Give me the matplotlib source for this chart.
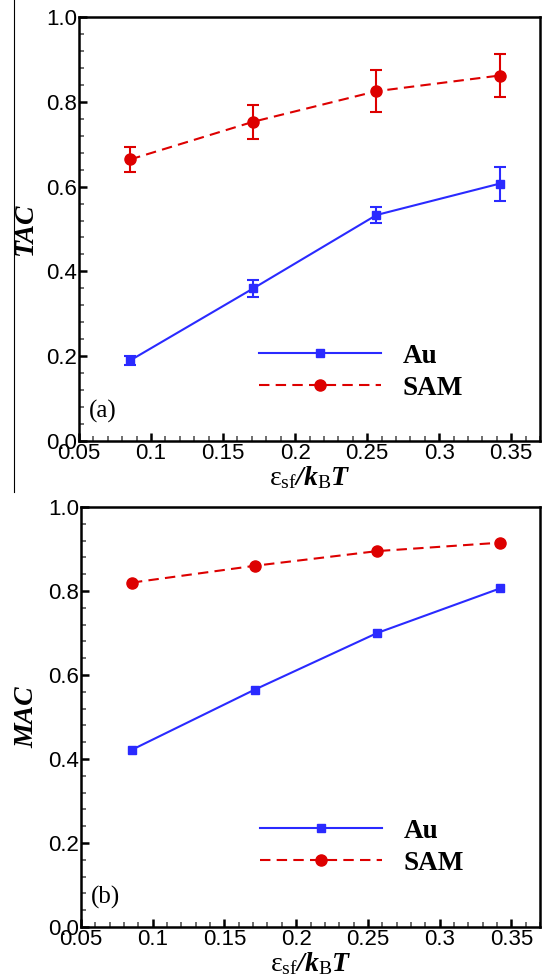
import matplotlib.pyplot as plt
from matplotlib.lines import Line2D
from matplotlib.ticker import MultipleLocator

plt.rcParams['font.family'] = ['Liberation Sans', 'DejaVu Sans']
plt.rcParams['mathtext.fontset'] = 'custom'
plt.rcParams['mathtext.rm'] = 'Liberation Serif'
plt.rcParams['mathtext.it'] = 'Liberation Serif:italic'
plt.rcParams['mathtext.bf'] = 'Liberation Serif:italic:bold'

# data
eps = [0.0855, 0.171, 0.2565, 0.342]
tac_au = [0.190, 0.360, 0.533, 0.607]
tac_au_err = [0.010, 0.020, 0.020, 0.040]
tac_sam = [0.664, 0.753, 0.825, 0.862]
tac_sam_err = [0.030, 0.040, 0.050, 0.050]
mac_au = [0.422, 0.565, 0.700, 0.806]
mac_sam = [0.820, 0.860, 0.895, 0.915]

xticks = [0.05, 0.1, 0.15, 0.2, 0.25, 0.3, 0.35]
xticklabels = ['0.05', '0.1', '0.15', '0.2', '0.25', '0.3', '0.35']
yticks = [0.0, 0.2, 0.4, 0.6, 0.8, 1.0]
yticklabels = ['0.0', '0.2', '0.4', '0.6', '0.8', '1.0']

blue = '#2a2aff'
red = '#dd0000'

W, H = 542, 977
fig = plt.figure(figsize=(W / 100, H / 100), dpi=100)


def box(l, r, t, b):
    return [l / W, 1 - b / H, (r - l) / W, (b - t) / H]


def style_axes(ax, ylabel, tag):
    ax.set_xlim(0.05, 0.37)
    ax.set_ylim(0.0, 1.0)
    ax.set_xticks(xticks)
    ax.set_xticklabels(xticklabels)
    ax.set_yticks(yticks)
    ax.set_yticklabels(yticklabels)
    ax.xaxis.set_minor_locator(MultipleLocator(0.01))
    ax.yaxis.set_minor_locator(MultipleLocator(0.04))
    ax.tick_params(which='both', direction='in', labelsize=16, width=1.2, color='#555555')
    ax.tick_params(which='major', length=6, width=1.8, color='black', pad=1.5)
    ax.tick_params(which='minor', length=3.5)
    for s in ax.spines.values():
        s.set_linewidth(1.8)
    ax.set_ylabel(ylabel, family='Liberation Serif', fontsize=20,
                  fontweight='bold', fontstyle='italic', labelpad=6)
    ax.set_xlabel(r'$\mathrm{\varepsilon}_{\mathrm{sf}}\mathbf{/k}_{\mathrm{B}}\mathbf{T}$',
                  fontsize=20, labelpad=0)
    ax.text(0.022, 0.07, tag, transform=ax.transAxes, family='Liberation Serif',
            fontsize=18, va='center', ha='left')


legend_kw = dict(loc='center left', frameon=False, numpoints=1,
                 handlelength=4.5, handletextpad=0.8, labelspacing=0.25,
                 borderpad=0, borderaxespad=0,
                 prop={'family': 'Liberation Serif', 'weight': 'bold', 'size': 19.5})

# panel (a)
ax1 = fig.add_axes(box(79, 540, 17, 441))
ax1.errorbar(eps, tac_au, yerr=tac_au_err, color=blue, marker='s', ms=6,
             lw=1.5, capsize=4.5, elinewidth=1.5, capthick=1.5, label='Au')
ax1.errorbar(eps, tac_sam, yerr=tac_sam_err, color=red, marker='o', ms=8,
             lw=1.5, dashes=(5, 3), capsize=4.5, elinewidth=1.5, capthick=1.5, label='SAM')
style_axes(ax1, 'TAC', '(a)')
h = [Line2D([], [], color=blue, marker='s', ms=6, lw=1.5),
     Line2D([], [], color=red, marker='o', ms=8, lw=1.5, dashes=(5, 3))]
ax1.legend(h, ['Au', 'SAM'], bbox_to_anchor=(0.39, 0.162), **legend_kw)

# panel (b)
ax2 = fig.add_axes(box(81, 540, 507, 927))
ax2.plot(eps, mac_au, color=blue, marker='s', ms=6, lw=1.5, label='Au')
ax2.plot(eps, mac_sam, color=red, marker='o', ms=8, lw=1.5, dashes=(5, 3), label='SAM')
style_axes(ax2, 'MAC', '(b)')
ax2.legend(bbox_to_anchor=(0.39, 0.19), **legend_kw)

# thin border line at the left of the top panel
fig.add_artist(Line2D([14 / W, 14 / W], [1.0, 1 - 492 / H], color='black', lw=0.8))

fig.savefig('out.png', dpi=100)
